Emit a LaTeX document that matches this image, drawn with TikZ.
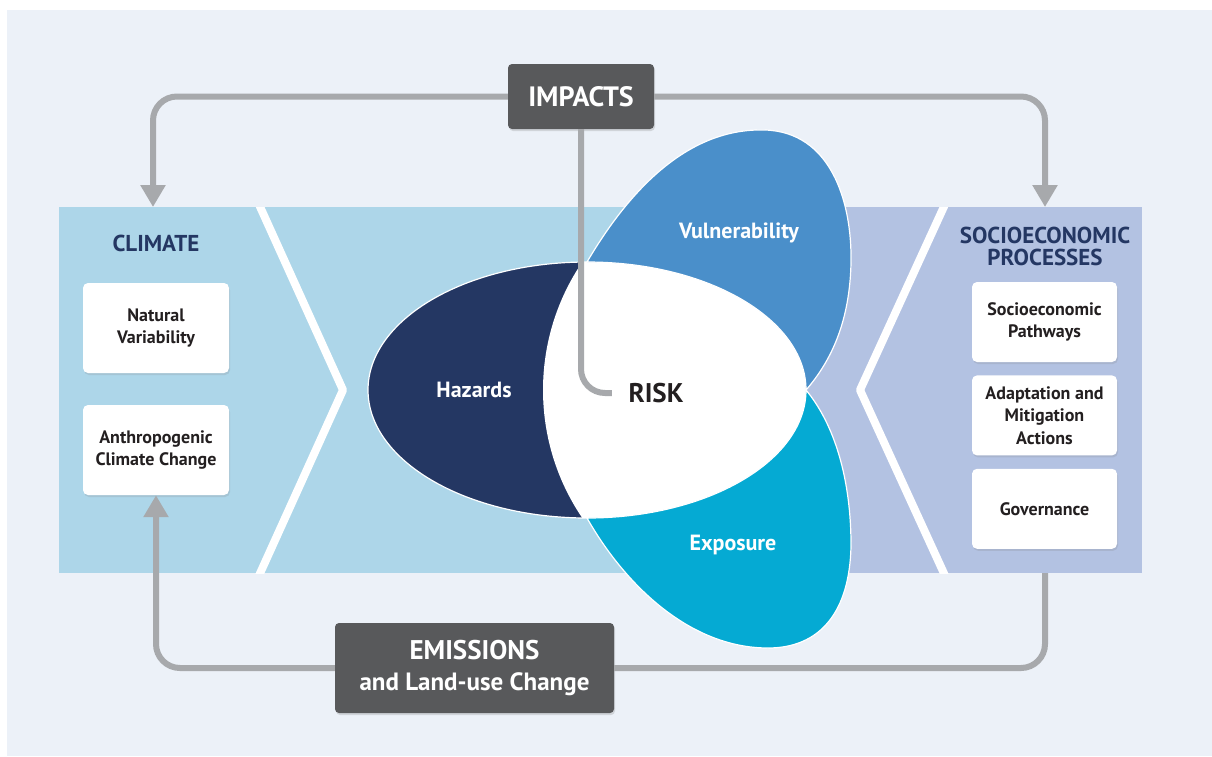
\documentclass[tikz,border=0pt]{standalone}
\usepackage{fontspec}
\setmainfont{PT Sans}
\usepackage{tikz}
\usetikzlibrary{positioning}
\usetikzlibrary{arrows.meta, shadows}
\definecolor{pagebg}{HTML}{ECF1F8}
\definecolor{climateblue}{HTML}{ADD6E9}
\definecolor{socioblue}{HTML}{B3C2E2}
\definecolor{hazardnavy}{HTML}{243763}
\definecolor{vulnblue}{HTML}{4A8FCA}
\definecolor{exposcyan}{HTML}{05AAD3}
\definecolor{boxgray}{HTML}{58595B}
\definecolor{linkgray}{HTML}{A7A9AC}
\definecolor{textdark}{HTML}{231F20}
\tikzset{
	link/.style = {draw=linkgray, line width=6pt, rounded corners=24pt},
	linkarrow/.style = {link, -{Triangle[width=24pt, length=22pt]}},
	darkbox/.style = {rectangle, rounded corners=4pt, fill=boxgray, text=white, align=center,
		drop shadow={shadow xshift=1pt, shadow yshift=-2pt, opacity=0.25}},
	whitebox/.style = {rectangle, rounded corners=5pt, fill=white, text=textdark, align=center,
		minimum width=146pt, font=\fontsize{18}{22.5}\selectfont\bfseries,
		drop shadow={shadow xshift=1pt, shadow yshift=-2pt, opacity=0.2}},
	paneltitle/.style = {text=hazardnavy, align=center, font=\fontsize{23}{22}\selectfont\bfseries},
	petal/.style = {draw=white, line width=1.2pt},
	petaltext/.style = {text=white, font=\fontsize{22}{24}\selectfont\bfseries}
}

\begin{document}
\begin{tikzpicture}[x=1pt, y=-1pt, node distance = 13pt and 13pt]
				% Background and panels
				\useasboundingbox[fill=white] (0,0) rectangle (1212,756);
				\fill[pagebg] (7,10) rectangle (1212,756);
				\fill[climateblue] (59,207) rectangle (803,573);
				\fill[socioblue] (803,207) rectangle (1142,573);
				\begin{scope}
					\clip (59,207) rectangle (1142,573);
					\draw[white, line width=8pt, line join=round] (257,200) -- (343,390) -- (257,580);
					\draw[white, line width=8pt, line join=round] (947,200) -- (860,390) -- (947,580);
				\end{scope}
				
				% Hazards, vulnerability, exposure and risk
				\fill[hazardnavy] (587,390) ellipse [x radius=219, y radius=128];
				\begin{scope}
					\clip (587,390) ellipse [x radius=219, y radius=128];
					\fill[white] (771,390) circle [radius=228];
				\end{scope}
				\draw[white, line width=1.2pt] (587,390) ellipse [x radius=219, y radius=128];
				\filldraw[vulnblue, petal] (587,262) .. controls (640,172) and (700,128) .. (765,130)
					.. controls (830,132) and (852,200) .. (851,262)
					.. controls (850,320) and (832,360) .. (806,390)
					arc [start angle=0, end angle=-90, x radius=219, y radius=128] -- cycle;
				\filldraw[exposcyan, petal] (806,390) .. controls (835,425) and (851,480) .. (851,545)
					.. controls (850,612) and (820,648) .. (768,648)
					.. controls (690,648) and (625,585) .. (587,518)
					arc [start angle=90, end angle=0, x radius=219, y radius=128] -- cycle;
				
				\node[petaltext] (hazards) at (474,390) {Hazards};
				\node[petaltext] (vuln) at (739,233) {Vulnerability};
				\node[petaltext] (expos) at (733,545) {Exposure};
				\node[text=textdark, font=\fontsize{27}{30}\selectfont\bfseries] (risk) at (656,393) {RISK};
				
				% Climate
				\node[paneltitle] (climate) at (156,243) {CLIMATE};
				\node[whitebox, minimum height=90pt] (natural) at (156,328) {Natural\\Variability};
				\node[whitebox, minimum height=90pt] (anthro) at (156,450) {Anthropogenic\\Climate Change};
				
				% Socioeconomic processes
				\node[paneltitle] (socio) at (1045,246) {SOCIOECONOMIC\\PROCESSES};
				\node[whitebox, minimum width=145pt, minimum height=80pt] (pathways) at (1044.5,322) {Socioeconomic\\Pathways};
				\node[whitebox, minimum width=145pt, minimum height=80pt, below=13pt of pathways] (adapt) {Adaptation and\\Mitigation\\Actions};
				\node[whitebox, minimum width=145pt, minimum height=80pt, below=13pt of adapt] (gov) {Governance};
				
				% Impacts and emissions
				\coordinate (climtop) at (153,207);
				\coordinate (sociotop) at (1045,207);
				\coordinate (sociobot) at (1045,573);
				\node[darkbox, minimum width=146pt, minimum height=65pt, font=\fontsize{28}{30}\selectfont\bfseries] (impacts) at (581,96.5) {IMPACTS};
				\node[darkbox, minimum width=279pt, minimum height=90pt, font=\fontsize{25}{31}\selectfont\bfseries] (emiss) at (474.5,668) {{\fontsize{27}{31}\selectfont EMISSIONS}\\and Land-use Change};
				
				\draw[linkarrow] (impacts.west) -| (climtop);
				\draw[linkarrow] (impacts.east) -| (sociotop);
				\draw[link] (impacts.south) |- ([xshift=-13pt]risk.west);
				\draw[link] (sociobot) |- (emiss.east);
				\draw[linkarrow] (emiss.west) -| (anthro.south);
				
			\end{tikzpicture}
\end{document}
